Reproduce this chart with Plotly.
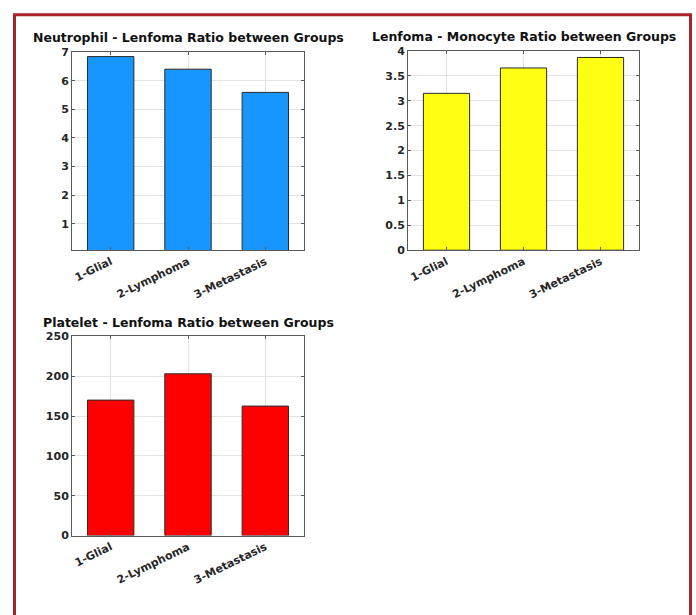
import plotly.graph_objects as go

W, H = 696, 615

groups = ["1-Glial", "2-Lymphoma", "3-Metastasis"]
neut_lenf = [6.84, 6.40, 5.59]
lenf_mono = [3.15, 3.66, 3.87]
plat_lenf = [170.0, 203.0, 162.5]

titles = ["Neutrophil - Lenfoma Ratio between Groups",
          "Lenfoma - Monocyte Ratio between Groups",
          "Platelet - Lenfoma Ratio between Groups"]
colors = ["#1797fd", "#ffff14", "#fd0000"]
values = [neut_lenf, lenf_mono, plat_lenf]
yranges = [[0.08, 7], [0, 4], [0, 250]]
ydticks = [1, 0.5, 50]

# pixel boxes: (left, right, top, bottom)
boxes = [(72, 304, 47, 249.5), (408, 639, 46, 249.5), (72, 304, 337.5, 541)]

fig = go.Figure()
FONT = "DejaVu Sans"

for i in range(3):
    n = "" if i == 0 else str(i + 1)
    fig.add_trace(go.Bar(
        x=groups, y=values[i], width=0.6,
        marker=dict(color=colors[i], line=dict(color="#2a2a2a", width=1)),
        xaxis="x" + n, yaxis="y" + n, showlegend=False,
    ))
    l, r, t, b = boxes[i]
    ax = dict(
        domain=[l / W, r / W], anchor="y" + n,
        showline=True, mirror="ticks", linecolor="#5a5a5a", linewidth=1,
        showgrid=True, gridcolor="#e3e3e3", gridwidth=1,
        ticks="inside", ticklen=3, tickcolor="#5a5a5a",
        tickangle=-26, range=[-0.5, 2.5],
        tickfont=dict(family=FONT, size=11, color="#262626", weight="bold"),
        fixedrange=True,
    )
    ay = dict(
        domain=[1 - b / H, 1 - t / H], anchor="x" + n,
        showline=True, mirror="ticks", linecolor="#5a5a5a", linewidth=1,
        showgrid=True, gridcolor="#e3e3e3", gridwidth=1,
        ticks="inside", ticklen=3, tickcolor="#5a5a5a",
        range=yranges[i], dtick=ydticks[i], tick0=0, zeroline=False,
        tickfont=dict(family=FONT, size=11, color="#262626", weight="bold"),
        fixedrange=True,
    )
    fig.update_layout(**{"xaxis" + n: ax, "yaxis" + n: ay})
    fig.add_annotation(
        text=titles[i], xref="paper", yref="paper",
        x=(l + r) / 2 / W, y=1 - (t - 14.5) / H, xanchor="center", yanchor="middle",
        showarrow=False,
        font=dict(family=FONT, size=12.5, color="#111111", weight="bold"),
    )

fig.add_shape(type="rect", xref="paper", yref="paper",
              x0=14.5 / W, x1=690.5 / W, y0=-0.05, y1=1 - 9 / H,
              line=dict(color="#a8232a", width=3), fillcolor="rgba(0,0,0,0)")

fig.update_layout(
    width=W, height=H, margin=dict(l=0, r=0, t=0, b=0),
    paper_bgcolor="white", plot_bgcolor="white", bargap=0.4,
)

fig.write_html("out.html", config={"displayModeBar": False})
